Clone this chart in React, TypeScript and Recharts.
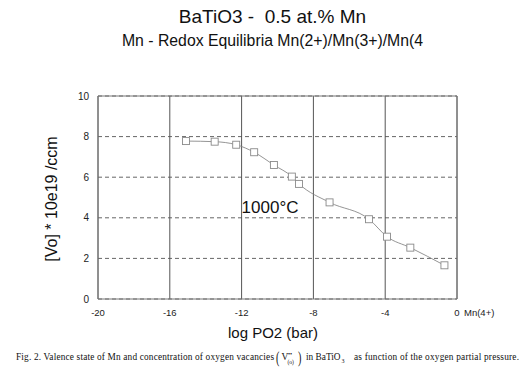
import React from "react";
import {
  ComposedChart,
  Line,
  XAxis,
  YAxis,
  CartesianGrid,
  ReferenceArea,
  ReferenceDot,
} from "recharts";

const logPO2 = [-15.1, -13.5, -12.3, -11.3, -10.2, -9.2, -8.8, -7.1, -4.9, -3.9, -2.6, -0.7];
const vacancies = [7.78, 7.75, 7.6, 7.23, 6.6, 6.03, 5.67, 4.76, 3.93, 3.07, 2.53, 1.66];
const xTicks = [-20, -16, -12, -8, -4, 0];
const yTicks = [0, 2, 4, 6, 8, 10];
const valenceTicks = [7.7, 3.27];
const valenceLabels = ["Mn(2+)", "Mn(3+)"];

const data = logPO2.map((x, i) => ({ x, v: vacancies[i] }));

const SANS = '"Liberation Sans", Arial, Helvetica, sans-serif';
const SERIF = '"Liberation Serif", "Times New Roman", serif';

const SquareDot = (props: any) => {
  const { cx, cy, index } = props;
  if (cx == null || cy == null) return <g key={index} />;
  return (
    <rect
      key={index}
      x={cx - 3.5}
      y={cy - 3.5}
      width={7}
      height={7}
      fill="#fff"
      stroke="#8a8a8a"
      strokeWidth={0.9}
    />
  );
};

const XTick = (props: any) => {
  const { x, y, payload } = props;
  const v = payload.value;
  return (
    <g>
      <text x={x} y={y} dy="0.71em" textAnchor="middle" fontSize={9.5} fontFamily={SANS} fill="#222">
        {v}
      </text>
      {v === 0 ? (
        <text x={x + 7} y={y + 0.5} dy="0.71em" textAnchor="start" fontSize={9.5} fontFamily={SANS} fill="#222">
          Mn(4+)
        </text>
      ) : null}
    </g>
  );
};

const ValenceTick = (props: any) => {
  const { x, y, payload } = props;
  const idx = valenceTicks.indexOf(payload.value);
  const label = valenceLabels[idx];
  if (idx === 1) {
    return (
      <g>
        <line x1={x - 3} x2={x + 6} y1={y} y2={y} stroke="#333" strokeWidth={1} />
        <text x={x + 12} y={y + 3} dy="0.35em" textAnchor="start" fontSize={8} fontFamily={SANS} fill="#222">
          {label}
        </text>
      </g>
    );
  }
  return (
    <text x={x + 9} y={y} dy="0.35em" textAnchor="start" fontSize={9} fontFamily={SANS} fill="#222">
      {label}
    </text>
  );
};

const TempLabel = (props: any) => {
  const vb = props.viewBox || {};
  const x = (vb.x ?? 0) + (vb.width ?? 0) / 2;
  const y = (vb.y ?? 0) + (vb.height ?? 0) / 2;
  return (
    <text x={x} y={y} textAnchor="start" fontSize={17} fontFamily={SANS} fill="#111">
      1000°C
    </text>
  );
};

export default function App() {
  return (
    <div style={{ position: "absolute", left: 0, top: 0, width: 532, height: 373, background: "#fff" }}>
      <ComposedChart
        width={532}
        height={373}
        data={data}
        margin={{ top: 96, right: 15, bottom: 44, left: 58 }}
      >
        <CartesianGrid
          yAxisId="left"
          horizontal={true}
          vertical={false}
          stroke="#666"
          strokeDasharray="4 3"
        />
        <CartesianGrid
          yAxisId="left"
          horizontal={false}
          vertical={true}
          stroke="#555"
        />
        <XAxis
          type="number"
          dataKey="x"
          domain={[-20, 0]}
          ticks={xTicks}
          interval={0}
          axisLine={false}
          tickLine={false}
          tickSize={6}
          tickMargin={4}
          height={30}
          tick={<XTick />}
        />
        <YAxis
          yAxisId="left"
          type="number"
          domain={[0, 10]}
          ticks={yTicks}
          interval={0}
          axisLine={false}
          tickLine={false}
          tickSize={6}
          tickMargin={3}
          width={40}
          tick={{ fontSize: 10, fontFamily: SANS, fill: "#222" }}
        />
        <YAxis
          yAxisId="right"
          orientation="right"
          type="number"
          domain={[0, 10]}
          ticks={valenceTicks}
          interval={0}
          axisLine={false}
          tickLine={false}
          tickSize={0}
          tickMargin={0}
          width={60}
          tick={<ValenceTick />}
        />
        <ReferenceArea
          yAxisId="left"
          x1={-20}
          x2={0}
          y1={0}
          y2={10}
          fill="none"
          fillOpacity={0}
          stroke="#777"
          strokeWidth={1}
        />
        <Line
          yAxisId="left"
          type="monotone"
          dataKey="v"
          stroke="#7a7a7a"
          strokeWidth={0.8}
          dot={<SquareDot />}
          isAnimationActive={false}
        />
        <ReferenceDot
          yAxisId="left"
          x={-12}
          y={4.25}
          r={0}
          fill="none"
          stroke="none"
          label={<TempLabel />}
        />
      </ComposedChart>
      <svg
        width={532}
        height={373}
        style={{ position: "absolute", left: 0, top: 0, pointerEvents: "none" }}
      >
        <text x={272.5} y={22.7} textAnchor="middle" fontSize={19} fontFamily={SANS} fill="#111" style={{ whiteSpace: "pre" }}>
          BaTiO3 -  0.5 at.% Mn
        </text>
        <text x={272.5} y={46} textAnchor="middle" fontSize={15.8} fontFamily={SANS} fill="#111">
          Mn - Redox Equilibria Mn(2+)/Mn(3+)/Mn(4
        </text>
        <text x={273} y={338} textAnchor="middle" fontSize={15} fontFamily={SANS} fill="#111">
          log PO2 (bar)
        </text>
        <text
          transform="translate(57,199) rotate(-90)"
          textAnchor="middle"
          fontSize={16}
          fontFamily={SANS}
          fill="#111"
        >
          [Vo] * 10e19 /ccm
        </text>
        <g fontFamily={SERIF} fill="#111" fontSize={9.3}>
          <text x={16} y={360} textLength={258} lengthAdjust="spacing">
            Fig. 2.  Valence state of Mn and concentration of oxygen vacancies
          </text>
          <text x={276} y={363} fontSize={17} transform="translate(276,363) scale(0.6,1) translate(-276,-363)">(</text>
          <text x={281.5} y={360} fontSize={9.5}>V</text>
          <text x={288} y={355.5} fontSize={6}>••</text>
          <text x={287.5} y={363.5} fontSize={5.5}>(o)</text>
          <text x={298} y={363} fontSize={17} transform="translate(298,363) scale(0.6,1) translate(-298,-363)">)</text>
          <text x={306} y={360}>in BaTiO</text>
          <text x={341.5} y={362.5} fontSize={6}>3</text>
          <text x={354} y={360} textLength={165} lengthAdjust="spacing">
            as function of the oxygen partial pressure.
          </text>
        </g>
      </svg>
    </div>
  );
}
